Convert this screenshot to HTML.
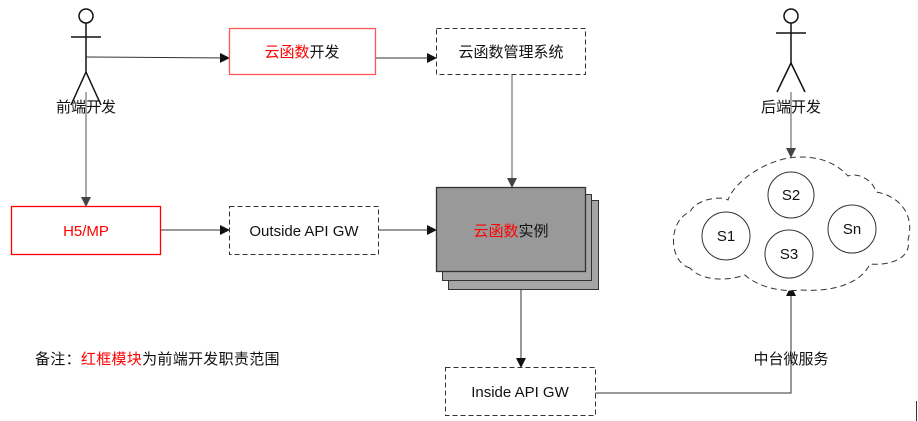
<!DOCTYPE html>
<html><head><meta charset="utf-8"><style>
html,body{margin:0;padding:0;background:#fff;}
svg{display:block;}
text{font-family:"Liberation Sans","Noto Sans CJK SC",sans-serif;font-size:15px;fill:#111;}
.r{fill:#f00;}
</style></head><body>
<svg width="918" height="421" viewBox="0 0 918 421" xmlns="http://www.w3.org/2000/svg">
<defs>
<marker id="a" markerWidth="10" markerHeight="10" refX="9" refY="5" orient="auto" markerUnits="userSpaceOnUse">
<path d="M0,0 L10,5 L0,10 z" fill="#111"/></marker>
<marker id="g" markerWidth="10" markerHeight="10" refX="9" refY="5" orient="auto" markerUnits="userSpaceOnUse">
<path d="M0,0 L10,5 L0,10 z" fill="#444"/></marker>
</defs>
<g stroke="#111" stroke-width="1.5" fill="none">
<circle cx="86" cy="16" r="7"/>
<line x1="86" y1="23" x2="86" y2="72"/>
<line x1="71" y1="37" x2="101" y2="37"/>
<line x1="86" y1="72" x2="71" y2="105" /><line x1="86" y1="72" x2="101" y2="105"/>
</g>
<g stroke="#111" stroke-width="1.5" fill="none">
<circle cx="791" cy="16" r="7"/>
<line x1="791" y1="23" x2="791" y2="63"/>
<line x1="776" y1="33" x2="806" y2="33"/>
<line x1="791" y1="63" x2="777" y2="92"/><line x1="791" y1="63" x2="805" y2="92"/>
</g>
<g stroke="#333" stroke-width="1" fill="none">
<line x1="86" y1="57" x2="229" y2="58" marker-end="url(#a)"/>
<line x1="375" y1="58" x2="436" y2="58" marker-end="url(#a)"/>
<line x1="86" y1="92" x2="86" y2="206" stroke="#555" marker-end="url(#g)"/>
<line x1="512" y1="74" x2="512" y2="187" stroke="#555" marker-end="url(#g)"/>
<line x1="160" y1="230" x2="229" y2="230" marker-end="url(#a)"/>
<line x1="378" y1="230" x2="436" y2="230" marker-end="url(#a)"/>
<line x1="521" y1="290" x2="521" y2="367" marker-end="url(#a)"/>
<polyline points="595,393 791,393 791,287" marker-end="url(#a)"/>
<line x1="791" y1="92" x2="791" y2="157" stroke="#555" marker-end="url(#g)"/>
</g>
<rect x="229.5" y="28.5" width="146" height="46" fill="#fff" stroke="#f55" stroke-width="1.3"/>
<text x="302" y="57" text-anchor="middle"><tspan class="r">云函数</tspan>开发</text>
<rect x="436.5" y="28.5" width="149" height="46" fill="#fff" stroke="#333" stroke-dasharray="5,3"/>
<text x="511" y="57" text-anchor="middle">云函数管理系统</text>
<rect x="11.5" y="206.5" width="149" height="48" fill="#fff" stroke="#f00" stroke-width="1.3"/>
<text x="86" y="236" text-anchor="middle" class="r">H5/MP</text>
<rect x="229.5" y="206.5" width="149" height="48" fill="#fff" stroke="#333" stroke-dasharray="5,3"/>
<text x="304" y="236" text-anchor="middle">Outside API GW</text>
<rect x="448.5" y="200.5" width="150" height="89" fill="#a6a6a6" stroke="#333"/>
<rect x="442.5" y="194.5" width="149" height="86" fill="#a6a6a6" stroke="#333"/>
<rect x="436.5" y="187.5" width="149" height="84" fill="#999" stroke="#333" stroke-width="1.3"/>
<text x="511" y="236" text-anchor="middle"><tspan class="r">云函数</tspan>实例</text>
<rect x="445.5" y="367.5" width="150" height="48" fill="#fff" stroke="#333" stroke-dasharray="5,3"/>
<text x="520" y="397" text-anchor="middle">Inside API GW</text>
<path d="M690,268 C668,262 668,220 690,212 C695,200 720,195 728,200 C735,180 770,157 800,157 C830,157 842,170 848,176 C858,172 873,180 876,192 C900,196 915,215 908,240 C912,258 890,266 870,264 C860,285 830,292 800,290 C780,293 755,285 745,275 C725,282 700,280 690,268 Z" fill="#fff" stroke="#333" stroke-dasharray="6,4"/>
<g stroke="#333" fill="#fff">
<circle cx="726" cy="236" r="24"/><circle cx="791" cy="195" r="23"/>
<circle cx="789" cy="254" r="24"/><circle cx="852" cy="229" r="24"/>
</g>
<text x="726" y="241" text-anchor="middle">S1</text>
<text x="791" y="200" text-anchor="middle">S2</text>
<text x="789" y="259" text-anchor="middle">S3</text>
<text x="852" y="234" text-anchor="middle">Sn</text>
<text x="86" y="112" text-anchor="middle">前端开发</text>
<text x="791" y="112" text-anchor="middle">后端开发</text>
<text x="791" y="364" text-anchor="middle">中台微服务</text>
<text x="35" y="364" letter-spacing="0.3">备注：<tspan class="r">红框模块</tspan>为前端开发职责范围</text>
<line x1="916.5" y1="401" x2="916.5" y2="421" stroke="#333"/>
</svg>
</body></html>
